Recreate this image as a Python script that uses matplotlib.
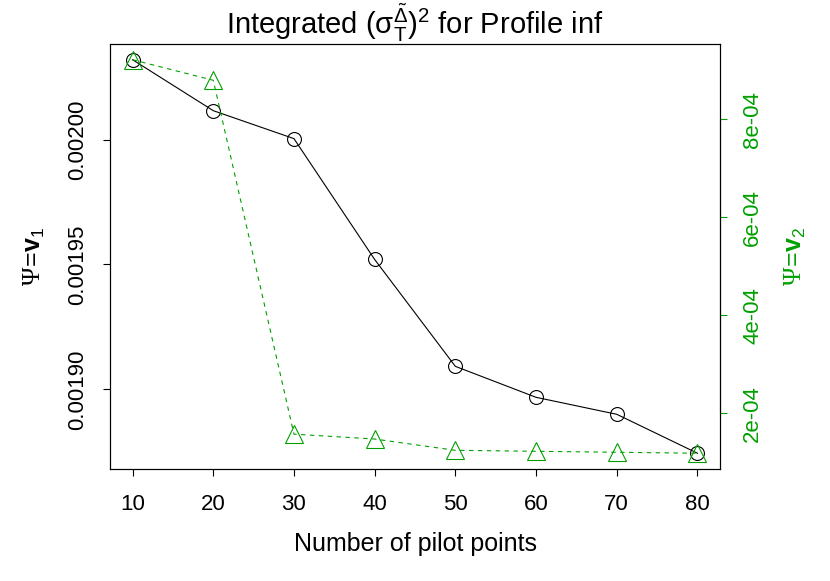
import matplotlib.pyplot as plt

plt.rcParams['font.family'] = ['Liberation Sans', 'DejaVu Sans']
plt.rcParams['mathtext.fontset'] = 'custom'
plt.rcParams['mathtext.rm'] = 'Liberation Sans'
plt.rcParams['mathtext.it'] = 'Liberation Sans:italic'
plt.rcParams['mathtext.bf'] = 'Liberation Sans:bold'
# serif Psi like R's symbol font
plt.rcParams['mathtext.cal'] = 'Liberation Serif'

# values
pilot_points = [10, 20, 30, 40, 50, 60, 70, 80]
psi_v1 = [0.002032, 0.0020116, 0.0020004, 0.001952, 0.0019092, 0.0018968, 0.0018900, 0.0018744]
psi_v2 = [9.22e-04, 8.80e-04, 1.57e-04, 1.47e-04, 1.24e-04, 1.22e-04, 1.20e-04, 1.18e-04]

left_ticks = [0.00190, 0.00195, 0.00200]
right_ticks = [2e-04, 4e-04, 6e-04, 8e-04]
right_labels = ['2e-04', '4e-04', '6e-04', '8e-04']

green = '#00A000'

fig = plt.figure(figsize=(8.3, 5.81), dpi=100)
ax = fig.add_axes([0.1325, 0.1928, 0.735, 0.7315])

ax.plot(pilot_points, psi_v1, color='black', lw=0.8, marker='o', ms=10,
        mfc='none', mec='black', mew=0.8)
ax.margins(x=0.04, y=0.04)
ax.set_xticks(pilot_points)
ax.set_yticks(left_ticks)
ax.set_yticklabels(['%.5f' % v for v in left_ticks], rotation=90, va='center')
ax.tick_params(axis='x', direction='out', length=5, width=0.8, labelsize=16, pad=13)
ax.tick_params(axis='y', direction='out', length=5, width=0.8, labelsize=16, pad=11)
ax.set_xlabel('Number of pilot points', fontsize=18, labelpad=12)
ax.set_ylabel(r'$\mathcal{\Psi}\!=\!\mathbf{v}_1$', fontsize=18, labelpad=14)
ax.set_title(r'Integrated $(\mathrm{\sigma}_{\mathrm{T}}^{\tilde{\Delta}})^2$ for Profile inf',
             fontsize=21, pad=5)

ax2 = ax.twinx()
ax2.plot(pilot_points, psi_v2, color=green, lw=0.8, ls='--', dashes=(4, 4),
         marker='^', ms=12.5, mfc='none', mec=green, mew=0.8)
ax2.margins(x=0.04, y=0.04)
ax2.set_yticks(right_ticks)
ax2.set_yticklabels(right_labels, rotation=90, va='center', color=green)
ax2.tick_params(axis='y', direction='out', length=5, width=0.8, colors=green,
                labelsize=16, pad=11)
ax2.set_ylabel(r'$\mathcal{\Psi}\!=\!\mathbf{v}_2$', fontsize=18, color=green, labelpad=14)
ax2.vlines(1, right_ticks[0], right_ticks[-1], color=green, lw=0.8,
           transform=ax2.get_yaxis_transform(), clip_on=False)

for a in (ax, ax2):
    for s in a.spines.values():
        s.set_linewidth(0.8)

fig.savefig('out.png', dpi=100)
